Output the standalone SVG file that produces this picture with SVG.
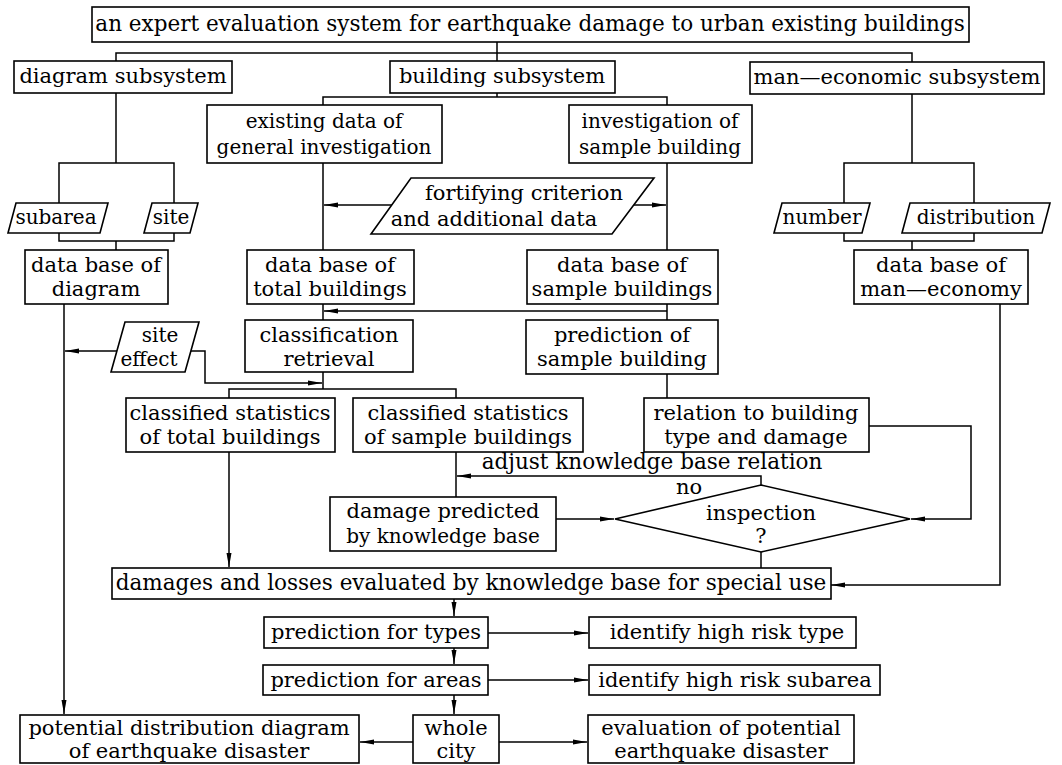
<svg xmlns="http://www.w3.org/2000/svg" width="1062" height="765" viewBox="0 0 1062 765">
<style>
.b{fill:#fff;stroke:#000;stroke-width:1.6}
text{font-family:"DejaVu Serif","Liberation Serif",serif;font-size:21px;fill:#000;text-anchor:middle}
.c{fill:none;stroke:#000;stroke-width:1.5}
.big{font-size:21.5px}
.s{font-size:20px}
</style>
<defs>
<marker id="a" viewBox="0 0 14 6" refX="14" refY="3" markerWidth="14" markerHeight="6" markerUnits="userSpaceOnUse" orient="auto">
<path d="M0,0.5 L14,3 L0,5.5 z" fill="#000"/>
</marker>
</defs>
<rect width="1062" height="765" fill="#fff"/>
<g id="connectors" class="c">
<path d="M497,42V53M116,61V53H912V62M497,53V61"/>
<path d="M497,93V97M323,105V97H667V105"/>
<path d="M116,93V163M59,203V163H174V203M59,233V241H174V233M116,241V250"/>
<path d="M912,94V163M844,203V163H974V203M844,233V241H974V233M912,241V250"/>
<path d="M323,163V250M667,163V250"/>
<path d="M392,205H324" marker-end="url(#a)"/>
<path d="M634,205H666" marker-end="url(#a)"/>
<path d="M323,304V320M667,304V320"/>
<path d="M667,311H324" marker-end="url(#a)"/>
<path d="M117,351H65" marker-end="url(#a)"/>
<path d="M191,351H205V383H322" marker-end="url(#a)"/>
<path d="M323,372V389M229,398V389H456V398"/>
<path d="M667,374V398"/>
<path d="M869,426H971V519H911" marker-end="url(#a)"/>
<path d="M761,485V476H457" marker-end="url(#a)"/>
<path d="M456,452V497"/>
<path d="M556,519H614" marker-end="url(#a)"/>
<path d="M761,552V568"/>
<path d="M229,452V567" marker-end="url(#a)"/>
<path d="M1000,304V585H831" marker-end="url(#a)"/>
<path d="M64,304V714" marker-end="url(#a)"/>
<path d="M454,599V616" marker-end="url(#a)"/>
<path d="M488,633H588" marker-end="url(#a)"/>
<path d="M454,648V664" marker-end="url(#a)"/>
<path d="M488,680H588" marker-end="url(#a)"/>
<path d="M454,695V714" marker-end="url(#a)"/>
<path d="M413,742H360" marker-end="url(#a)"/>
<path d="M499,742H587" marker-end="url(#a)"/>
</g>
<g id="n-top"><rect class="b" x="92" y="7" width="877" height="35"/><text class="big" x="530" y="31">an expert evaluation system for earthquake damage to urban existing buildings</text></g>
<g id="n-diagram-sub"><rect class="b" x="14" y="61" width="218" height="32"/><text x="123" y="83">diagram subsystem</text></g>
<g id="n-building-sub"><rect class="b" x="390" y="61" width="225" height="32"/><text x="502" y="83">building subsystem</text></g>
<g id="n-man-sub"><rect class="b" x="750" y="62" width="294" height="32"/><text x="897" y="84">man—economic subsystem</text></g>
<g id="n-existing"><rect class="b" x="207" y="105" width="235" height="58"/><text class="s" x="324" y="128">existing data of</text><text class="s" x="324" y="154">general investigation</text></g>
<g id="n-investigation"><rect class="b" x="569" y="105" width="183" height="58"/><text class="s" x="660" y="128">investigation of</text><text class="s" x="660" y="154">sample building</text></g>
<g id="n-subarea"><polygon class="b" points="16,203 108,203 100,233 8,233"/><text class="s" x="56" y="224">subarea</text></g>
<g id="n-site"><polygon class="b" points="152,203 198,203 190,233 144,233"/><text class="s" x="171" y="224">site</text></g>
<g id="n-fortifying"><polygon class="b" points="411,178 654,178 612,234 371,234"/><text x="524" y="200">fortifying criterion</text><text x="494" y="226">and additional data</text></g>
<g id="n-number"><polygon class="b" points="782,203 870,203 862,233 774,233"/><text class="s" x="822" y="224">number</text></g>
<g id="n-distribution"><polygon class="b" points="910,203 1050,203 1042,233 902,233"/><text class="s" x="976" y="224">distribution</text></g>
<g id="n-db-diagram"><rect class="b" x="25" y="250" width="143" height="54"/><text x="96" y="272">data base of</text><text x="96" y="296">diagram</text></g>
<g id="n-db-total"><rect class="b" x="247" y="250" width="167" height="54"/><text x="330" y="272">data base of</text><text x="330" y="296">total buildings</text></g>
<g id="n-db-sample"><rect class="b" x="527" y="250" width="191" height="54"/><text x="622" y="272">data base of</text><text x="622" y="296">sample buildings</text></g>
<g id="n-db-man"><rect class="b" x="854" y="250" width="174" height="54"/><text x="941" y="272">data base of</text><text x="941" y="296">man—economy</text></g>
<g id="n-site-effect"><polygon class="b" points="125,322 199,322 185,372 111,372"/><text class="s" x="160" y="342">site</text><text class="s" x="149" y="366">effect</text></g>
<g id="n-classification"><rect class="b" x="245" y="320" width="168" height="52"/><text x="329" y="342">classification</text><text x="329" y="366">retrieval</text></g>
<g id="n-prediction"><rect class="b" x="526" y="320" width="192" height="54"/><text x="622" y="342">prediction of</text><text x="622" y="366">sample building</text></g>
<g id="n-cls-total"><rect class="b" x="126" y="398" width="209" height="54"/><text x="230" y="420">classified statistics</text><text x="230" y="444">of total buildings</text></g>
<g id="n-cls-sample"><rect class="b" x="353" y="398" width="230" height="54"/><text x="468" y="420">classified statistics</text><text x="468" y="444">of sample buildings</text></g>
<g id="n-relation"><rect class="b" x="644" y="398" width="225" height="54"/><text x="756" y="420">relation to building</text><text x="756" y="444">type and damage</text></g>
<g id="l-adjust"><text class="big" x="652" y="469">adjust knowledge base relation</text></g>
<g id="n-damage-pred"><rect class="b" x="330" y="497" width="226" height="54"/><text x="443" y="518">damage predicted</text><text class="s" x="443" y="543">by knowledge base</text></g>
<g id="n-inspection"><polygon class="b" points="615,519 761,485 910,519 761,552"/><text x="761" y="520">inspection</text><text x="761" y="543">?</text></g>
<g id="l-no"><text x="689" y="494">no</text></g>
<g id="n-damages"><rect class="b" x="112" y="568" width="719" height="31"/><text class="big" x="471" y="590">damages and losses evaluated by knowledge base for special use</text></g>
<g id="n-types"><rect class="b" x="264" y="617" width="224" height="31"/><text x="376" y="639">prediction for types</text></g>
<g id="n-risk-type"><rect class="b" x="589" y="617" width="267" height="31"/><text x="727" y="639">identify high risk type</text></g>
<g id="n-areas"><rect class="b" x="263" y="665" width="225" height="30"/><text x="376" y="687">prediction for areas</text></g>
<g id="n-risk-subarea"><rect class="b" x="589" y="665" width="291" height="30"/><text x="735" y="687">identify high risk subarea</text></g>
<g id="n-whole-city"><rect class="b" x="413" y="715" width="86" height="48"/><text x="456" y="735">whole</text><text x="456" y="758">city</text></g>
<g id="n-potential"><rect class="b" x="20" y="715" width="339" height="48"/><text x="189" y="735">potential distribution diagram</text><text x="189" y="758">of earthquake disaster</text></g>
<g id="n-evaluation"><rect class="b" x="588" y="715" width="266" height="48"/><text x="721" y="735">evaluation of potential</text><text x="721" y="758">earthquake disaster</text></g>
</svg>
